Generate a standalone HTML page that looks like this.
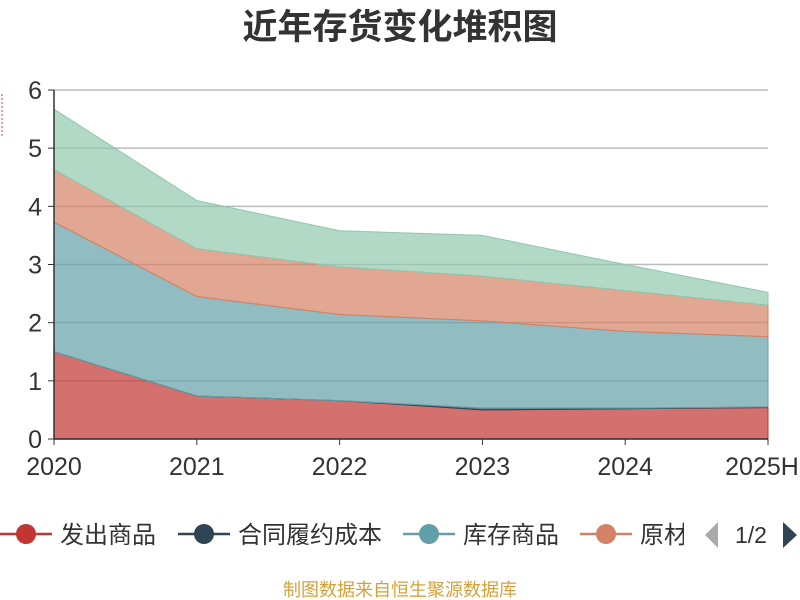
<!DOCTYPE html>
<html><head><meta charset="utf-8"><style>
body{margin:0;background:#fff;font-family:"Liberation Sans","Noto Sans CJK SC",sans-serif}
#wrap{position:relative;width:800px;height:600px;overflow:hidden}
</style></head><body>
<div id="wrap">
<svg id="svg" width="800" height="600" xmlns="http://www.w3.org/2000/svg">
<defs><clipPath id="lc"><rect x="0" y="500" width="684" height="60"/></clipPath></defs>
<text x="400" y="39" text-anchor="middle" font-size="35" font-weight="bold" fill="#333" font-family="Liberation Sans, Noto Sans CJK SC, sans-serif">近年存货变化堆积图</text>
<g id="grid"></g><g id="areas"></g><g id="axes"></g>
<g id="legend"></g>
<text x="400" y="596" text-anchor="middle" font-size="18" fill="#d4a23a" font-family="Liberation Sans, Noto Sans CJK SC, sans-serif">制图数据来自恒生聚源数据库</text>
</svg>
</div>
<script>
const categories=["2020","2021","2022","2023","2024","2025H"];
const seriesNames=["发出商品","合同履约成本","库存商品","原材料","其他"];
const shipped=[1.5,0.74,0.66,0.5,0.52,0.54];
const contract=[0,0,0,0.03,0.01,0.01];
const goods=[2.23,1.71,1.48,1.5,1.32,1.21];
const raw=[0.9,0.82,0.82,0.77,0.7,0.54];
const other=[1.04,0.83,0.62,0.7,0.45,0.22];
const yTicks=[0,1,2,3,4,5,6];
const colors=["#c23531","#2f4554","#61a0a8","#d48265","#91c7ae"];
const NS="http://www.w3.org/2000/svg";
const x0=54,x1=768,yb=439,yt=90,ymax=6;
const X=i=>x0+i*(x1-x0)/(categories.length-1);
const Y=v=>yb-v*(yb-yt)/ymax;
function mk(t,a,p){const e=document.createElementNS(NS,t);for(const k in a)e.setAttribute(k,a[k]);p.appendChild(e);return e;}
const grid=document.getElementById('grid'),areas=document.getElementById('areas'),axes=document.getElementById('axes'),leg=document.getElementById('legend');
yTicks.forEach(t=>{
 const l=mk('line',{x1:x0,x2:x1,y1:Y(t),y2:Y(t),stroke:'#bbb','stroke-width':1.5},grid);
 
 
 const tk=mk('line',{x1:x0-6,x2:x0,y1:Y(t),y2:Y(t),stroke:'#333'},axes);
 
 
 const tx=mk('text',{x:x0-12,y:Y(t)+9,'text-anchor':'end','font-size':25,fill:'#333'},axes);
 tx.textContent=t;
 
 
});
const series=[shipped,contract,goods,raw,other];
let base=categories.map(()=>0);
series.forEach((s,si)=>{
 const top=base.map((b,i)=>b+s[i]);
 let d='M'+top.map((v,i)=>X(i)+','+Y(v)).join(' L');
 for(let i=categories.length-1;i>=0;i--)d+=' L'+X(i)+','+Y(base[i]);
 d+='Z';
 const p=mk('path',{d:d,fill:colors[si],'fill-opacity':0.7,stroke:colors[si],'stroke-width':1},areas);
 
 
 base=top;
});
mk('line',{x1:x0,x2:x0,y1:yt,y2:yb,stroke:'#333','stroke-width':1.5},axes);
mk('line',{x1:x0,x2:x1,y1:yb,y2:yb,stroke:'#333','stroke-width':1.5},axes);
categories.forEach((c,i)=>{
 mk('line',{x1:X(i),x2:X(i),y1:yb,y2:yb+6,stroke:'#333'},axes);
 const tx=mk('text',{x:i==categories.length-1?X(i)-6:X(i),y:yb+36,'text-anchor':'middle','font-size':25,fill:'#333'},axes);
 tx.textContent=c;
 
 
});
const lx=[0,178,403,580];
const lg=mk('g',{'clip-path':'url(#lc)'},leg);
for(let i=0;i<4;i++){
 const g=mk('g',{},lg);
 
 
 mk('line',{x1:lx[i],x2:lx[i]+52,y1:534,y2:534,stroke:colors[i],'stroke-width':2.5},g);
 mk('circle',{cx:lx[i]+26,cy:534,r:10,fill:colors[i]},g);
 const t=mk('text',{x:lx[i]+60,y:543,'font-size':24,fill:'#333','font-family':'Liberation Sans, Noto Sans CJK SC, sans-serif'},g);
 t.textContent=seriesNames[i];
}
mk('polygon',{points:'718,522 718,548 705,535',fill:'#aaa'},leg);
const pg=mk('text',{x:751,y:543,'text-anchor':'middle','font-size':23,fill:'#333'},leg);pg.textContent='1/2';
const nx=mk('polygon',{points:'783,522 783,548 797,535',fill:'#2f4554'},leg);


mk('rect',{x:-3,y:95,width:5,height:40,fill:'none',stroke:'#e33','stroke-dasharray':'2,2'},axes);
</script>
</body></html>
